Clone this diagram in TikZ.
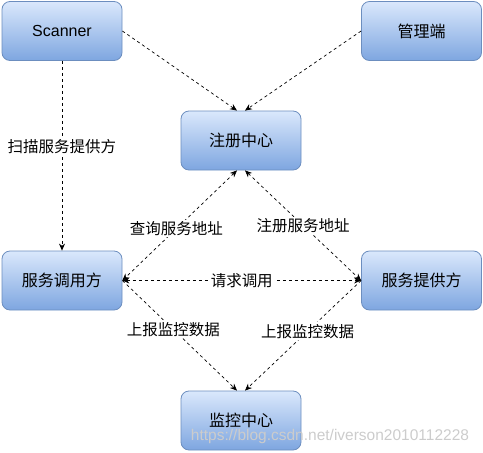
\documentclass[tikz,border=0pt]{standalone}
\usepackage{fontspec}
\setmainfont{Liberation Sans}
\newfontfamily\cjk{Noto Sans CJK SC}
\usetikzlibrary{arrows.meta,calc}
\definecolor{boxtop}{HTML}{DAE8FC}
\definecolor{boxbot}{HTML}{7EA6E0}
\definecolor{boxline}{HTML}{6C8EBF}
\tikzset{
  box/.style={rectangle, rounded corners=8pt, draw=boxline, line width=0.8pt,
    top color=boxtop, bottom color=boxbot, minimum width=120pt, minimum height=59pt,
    inner sep=0pt, font=\fontsize{16}{19}\selectfont\cjk},
  conn/.style={draw=black, line width=0.7pt, dash pattern=on 3pt off 3pt,
    -{Stealth[length=7pt,width=6pt]}},
  bconn/.style={conn, {Stealth[length=7pt,width=6pt]}-{Stealth[length=7pt,width=6pt]}},
  lbl/.style={fill=white, inner sep=1.5pt, font=\fontsize{15.5}{18}\selectfont\cjk}
}
\begin{document}
\begin{tikzpicture}[x=1pt,y=-1pt]
\useasboundingbox (0,0) rectangle (483,453);
\node[box] (scan) at (62,31) {\fontspec{Liberation Sans}\fontsize{16}{19}\selectfont Scanner};
\node[box] (mgr) at (421.5,31) {管理端};
\node[box] (reg) at (241,140.5) {注册中心};
\node[box] (cons) at (62,280.5) {服务调用方};
\node[box] (prov) at (421.5,280.5) {服务提供方};
\node[box] (mon) at (241,420.5) {监控中心};
\coordinate (regTL) at ($(reg.north)+(-4,0)$);
\coordinate (regTR) at ($(reg.north)+(4,0)$);
\coordinate (regBL) at ($(reg.south)+(-4,0)$);
\coordinate (regBR) at ($(reg.south)+(4,0)$);
\coordinate (monL) at ($(mon.north)+(-4,0)$);
\coordinate (monR) at ($(mon.north)+(4,0)$);
\draw[conn] (scan.south) -- node[lbl, pos=0.45] {扫描服务提供方} (cons.north);
\draw[conn] (scan.east) -- (regTL);
\draw[conn] (mgr.west) -- (regTR);
\draw[bconn] (regBL) -- node[lbl, pos=0.53] {查询服务地址} (cons.east);
\draw[bconn] (regBR) -- node[lbl, pos=0.5] {注册服务地址} (prov.west);
\draw[bconn] (cons.east) -- node[lbl] {请求调用} (prov.west);
\draw[conn] (cons.east) -- node[lbl, pos=0.445] {上报监控数据} (monL);
\draw[conn] (prov.west) -- node[lbl, pos=0.46] {上报监控数据} (monR);
\node[font=\fontsize{15.5}{18}\selectfont, inner sep=0pt, text=black!20] (wm) at (330,436)
  {https://blog.csdn.net/iverson2010112228};
\end{tikzpicture}
\end{document}
